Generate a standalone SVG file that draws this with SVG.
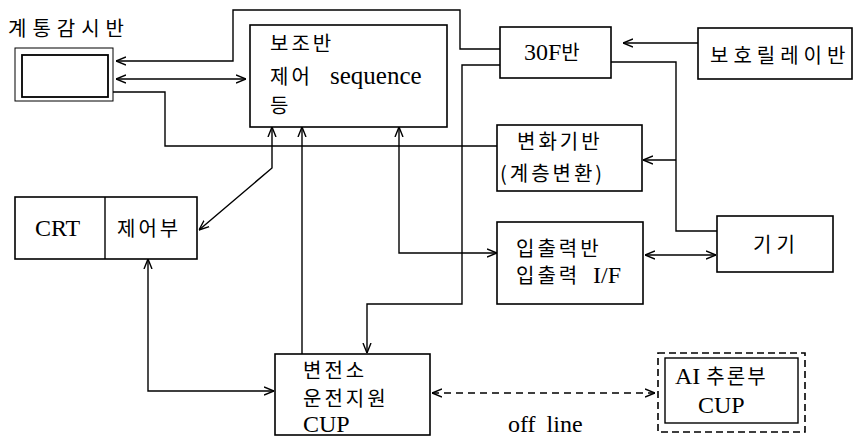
<svg xmlns="http://www.w3.org/2000/svg" width="855" height="437" viewBox="0 0 855 437">
<style>
.box{fill:none;stroke:#000;stroke-width:1.6}
.ln{fill:none;stroke:#000;stroke-width:1.4}
.a{marker-end:url(#ah)}
.aa{marker-start:url(#ah);marker-end:url(#ah)}
.ko{font-family:"Noto Sans CJK KR","Liberation Serif",sans-serif;font-size:20px;letter-spacing:3px;fill:#000}
.la{font-family:"Liberation Serif","Noto Sans CJK KR",serif;font-size:24px;fill:#000}
</style>
<defs>
<marker id="ah" viewBox="0 0 10 10" refX="10" refY="5" markerWidth="10" markerHeight="10" markerUnits="userSpaceOnUse" orient="auto-start-reverse">
<path d="M0,1 L10,5 L0,9" fill="none" stroke="#000" stroke-width="1.4"/>
</marker>
</defs>
<rect width="855" height="437" fill="#fff"/>

<g id="gyetong">
<text class="ko" x="8" y="36" style="letter-spacing:6px">계통감시반</text>
<rect x="15" y="48" width="98" height="53" fill="none" stroke="#000" stroke-width="1"/>
<rect x="22" y="55" width="86" height="42" fill="none" stroke="#000" stroke-width="1.8"/>
</g>

<g id="bojo">
<rect class="box" x="250" y="25" width="197" height="102"/>
<text class="ko" x="270" y="51">보조반</text>
<text class="ko" x="270" y="84">제어<tspan class="la" x="330" style="letter-spacing:0;font-size:25px">sequence</tspan></text>
<text class="ko" x="270" y="113">등</text>
</g>

<g id="f30">
<rect class="box" x="500" y="27" width="111" height="51"/>
<text class="la" x="524" y="60">30F<tspan class="ko" style="letter-spacing:0">반</tspan></text>
</g>

<g id="boho">
<rect class="box" x="698" y="28" width="154" height="51"/>
<text class="ko" x="710" y="63" style="letter-spacing:5px">보호릴레이반</text>
</g>

<g id="byeonhwa">
<rect class="box" x="497" y="125" width="145" height="66"/>
<text class="ko" x="517" y="149">변화기반</text>
<text class="ko" x="500" y="181">(계층변환)</text>
</g>

<g id="ipchul">
<rect class="box" x="497" y="222" width="146" height="82"/>
<text class="ko" x="516" y="256">입출력반</text>
<text class="ko" x="516" y="283">입출력 <tspan class="la" x="593" style="letter-spacing:0">I/F</tspan></text>
</g>

<g id="gigi">
<rect class="box" x="717" y="216" width="116" height="56"/>
<text class="ko" x="753" y="252" style="letter-spacing:5px">기기</text>
</g>

<g id="crt">
<rect class="box" x="15" y="197" width="182" height="62"/>
<line class="ln" x1="105" y1="197" x2="105" y2="259" stroke-width="1"/>
<text class="la" x="35" y="236">CRT</text>
<text class="ko" x="117" y="236">제어부</text>
</g>

<g id="byeonjeonso">
<rect class="box" x="275" y="354" width="155" height="81"/>
<text class="ko" x="303" y="378">변전소</text>
<text class="ko" x="303" y="406">운전지원</text>
<text class="la" x="303" y="432">CUP</text>
</g>

<g id="ai">
<rect x="658" y="353" width="147" height="79" fill="none" stroke="#000" stroke-width="1.6" stroke-dasharray="7,4"/>
<rect x="665" y="358" width="133" height="65" fill="none" stroke="#000" stroke-width="1.4"/>
<text class="la" x="675" y="384">AI <tspan class="ko" style="letter-spacing:2px">추론부</tspan></text>
<text class="la" x="698" y="413">CUP</text>
</g>

<g id="connectors">
<path class="ln a" d="M500,49 H460 V10 H233 V61 H116"/>
<path class="ln aa" d="M116,79 H246"/>
<path class="ln" d="M113,92 H165 V146 H497"/>
<path class="ln aa" d="M272,127 V168 L199,230"/>
<path class="ln a" d="M302,354 V127"/>
<path class="ln aa" d="M399,127 V253 H497"/>
<path class="ln aa" d="M148,259 V391 H274"/>
<path class="ln a" d="M500,65 H462 V304 H367 V353"/>
<path class="ln a" d="M698,43 H623"/>
<path class="ln" d="M611,62 H676 V231 H717"/>
<path class="ln a" d="M676,160 H643"/>
<path class="ln aa" d="M645,255 H716"/>
<path class="ln aa" d="M432,393 H655" stroke-dasharray="7,5"/>
<text class="la" x="508" y="432" style="word-spacing:5px">off line</text>
</g>
</svg>
